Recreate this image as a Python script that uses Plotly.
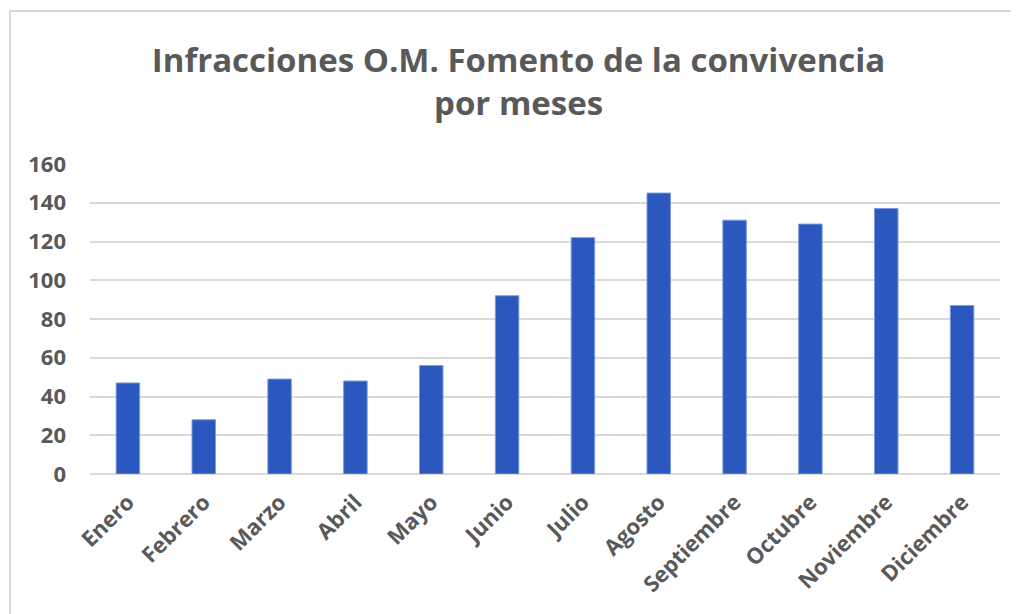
import plotly.graph_objects as go

meses = ["Enero", "Febrero", "Marzo", "Abril", "Mayo", "Junio", "Julio",
         "Agosto", "Septiembre", "Octubre", "Noviembre", "Diciembre"]
infracciones = [47, 28, 49, 48, 56, 92, 122, 145, 131, 129, 137, 87]
y_ticks = [0, 20, 40, 60, 80, 100, 120, 140, 160]
titulo = "Infracciones O.M. Fomento de la convivencia<br>por meses"

TXT = "#595959"
# page body has an 8px margin: figure is placed at (8, 8)
W, H = 1011, 606
ML, MR, MT, MB = 82, 19, 156, 140
PW, PH = W - ML - MR, H - MT - MB

def px_x(x):
    return (x - ML) / PW

def px_y(y):
    return (H - MB - y) / PH

fig = go.Figure(go.Bar(
    x=meses, y=infracciones,
    marker=dict(color="#2A58BE", line=dict(color="#7C9BDF", width=1)),
    hoverinfo="x+y",
))

fig.update_layout(
    width=W, height=H,
    paper_bgcolor="white", plot_bgcolor="white",
    margin=dict(l=ML, r=MR, t=MT, b=MB, autoexpand=False),
    bargap=0.69,
    showlegend=False,
    title=dict(
        text=titulo, x=0.505, xanchor="center", y=1 - 64 / H, yanchor="middle",
        font=dict(family="Open Sans", size=33, color=TXT, weight="bold"),
    ),
    xaxis=dict(
        tickangle=-45, automargin=False,
        tickfont=dict(family="Open Sans", size=22, color=TXT, weight="bold"),
        showgrid=False, showline=False, ticks="", ticklabelstandoff=10,
    ),
    yaxis=dict(
        range=[0, 160], tickvals=y_ticks, automargin=False,
        tickfont=dict(family="Open Sans", size=22, color=TXT, weight="bold"),
        showgrid=True, gridcolor="#D9D9D9", gridwidth=1.5,
        zeroline=True, zerolinecolor="#D9D9D9", zerolinewidth=1.5,
        showline=False, ticks="", ticklabelstandoff=23,
    ),
    shapes=[
        dict(type="line", xref="paper", yref="paper", x0=px_x(2), x1=px_x(W + 5),
             y0=px_y(3), y1=px_y(3), line=dict(color="#D9D9D9", width=2)),
        dict(type="line", xref="paper", yref="paper", x0=px_x(2), x1=px_x(2),
             y0=px_y(3), y1=px_y(H + 5), line=dict(color="#D9D9D9", width=2)),
    ],
)

fig.write_html("out.html")
